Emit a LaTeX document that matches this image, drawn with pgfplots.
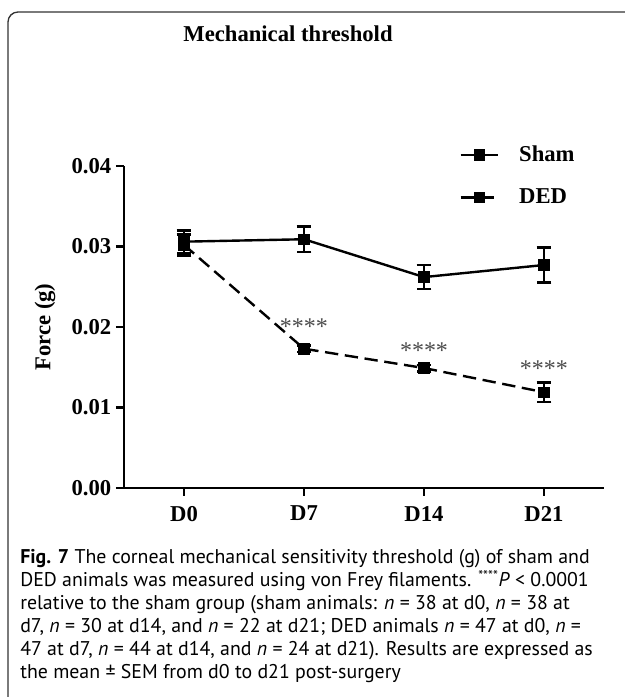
\documentclass[border=0pt]{standalone}
\usepackage{pgfplots}
\pgfplotsset{compat=1.18}
\usepackage{fontspec}
\setmainfont{Liberation Serif}
\newfontfamily\capfont{PT Sans}
\pgfplotstableread{
x y e
0 0.0306 0.0014
1 0.0309 0.0016
2 0.0262 0.0015
3 0.0277 0.0022
}\sham
\pgfplotstableread{
x y e
0 0.0302 0.0013
1 0.0173 0.0004
2 0.0149 0.0004
3 0.0119 0.0012
}\ded
\begin{document}
\begin{tikzpicture}
\useasboundingbox (0,0) rectangle (468.75pt,522.75pt);
\begin{scope}
\clip (0,0) rectangle (468.75pt,522.75pt);
\draw[line width=1pt, black!80, rounded corners=7.5pt] (6pt,-20pt) -- (6pt,513.75pt) -- (490pt,513.75pt);
\end{scope}
\node[font=\bfseries\fontsize{17}{20}\selectfont] at (216pt,497.25pt) {Mechanical threshold};
\begin{axis}[
  at={(93pt,156.75pt)}, anchor=south west,
  scale only axis, width=360pt, height=241.5pt,
  xmin=-0.5, xmax=3.5, ymin=0, ymax=0.04,
  axis x line*=bottom, axis y line*=left,
  axis line style={line width=2pt},
  xtick={0,1,2,3}, xticklabels={D0,D7,D14,D21},
  ytick={0,0.01,0.02,0.03,0.04},
  scaled y ticks=false,
  /pgf/number format/assume math mode=true,
  y tick label style={/pgf/number format/.cd, fixed, fixed zerofill, precision=2, /tikz/.cd},
  x tick label style={yshift=-4pt},
  ticklabel style={font=\bfseries\fontsize{17}{20}\selectfont},
  tick align=outside, major tick length=6pt,
  tick style={line width=2pt, black},
  ylabel={Force (g)},
  ylabel style={font=\bfseries\fontsize{17}{20}\selectfont, at={(axis description cs:-0.1646,0.5)}, anchor=center},
  legend style={draw=none, fill=none, at={(axis description cs:0.69,1.08)}, anchor=north west,
    font=\bfseries\fontsize{17}{20}\selectfont, row sep=15pt,
    /tikz/every odd column/.append style={column sep=13pt}},
  legend cell align=left,
  legend image code/.code={\draw[mark repeat=2,mark phase=2,#1] plot coordinates {(0pt,0pt) (14pt,0pt) (28pt,0pt)};},
  clip=false,
]
\addplot[black, solid, line width=1.8pt, mark=square*, mark size=4pt, mark options={solid, fill=black, line width=0.4pt},
  error bars/.cd, y dir=both, y explicit, error mark=|,
  error bar style={line width=1.8pt, solid},
  error mark options={line width=2pt, mark size=5.6pt, solid}]
  table[x=x, y=y, y error=e] {\sham};
\addlegendentry{Sham}
\addplot[black, dash pattern=on 10pt off 5pt, line width=1.8pt, mark=square*, mark size=4pt, mark options={solid, fill=black, line width=0.4pt},
  error bars/.cd, y dir=both, y explicit, error mark=|,
  error bar style={line width=1.8pt, solid},
  error mark options={line width=2pt, mark size=5.6pt, solid}]
  table[x=x, y=y, y error=e] {\ded};
\addlegendentry{DED}
\node[text=black!70, font=\fontsize{18}{20}\selectfont] at (axis cs:1,0.0201) {****};
\node[text=black!70, font=\fontsize{18}{20}\selectfont] at (axis cs:2,0.0171) {****};
\node[text=black!70, font=\fontsize{18}{20}\selectfont] at (axis cs:3,0.0148) {****};
\end{axis}
\begin{scope}[every node/.style={anchor=base west, inner sep=0pt, font=\capfont\fontsize{14.9}{17}\selectfont}]
\node at (15pt,99.75pt) {\textbf{Fig. 7} The corneal mechanical sensitivity threshold (g) of sham and};
\node at (15pt,82.5pt) {DED animals was measured using von Frey filaments. \textsuperscript{****}\textit{P} < 0.0001};
\node at (15pt,65.25pt) {relative to the sham group (sham animals: \textit{n} = 38 at d0, \textit{n} = 38 at};
\node at (15pt,48pt) {d7, \textit{n} = 30 at d14, and \textit{n} = 22 at d21; DED animals \textit{n} = 47 at d0, \textit{n} =};
\node at (15pt,30.75pt) {47 at d7, \textit{n} = 44 at d14, and \textit{n} = 24 at d21). Results are expressed as};
\node at (15pt,13.5pt) {the mean ± SEM from d0 to d21 post-surgery};
\end{scope}
\end{tikzpicture}
\end{document}
